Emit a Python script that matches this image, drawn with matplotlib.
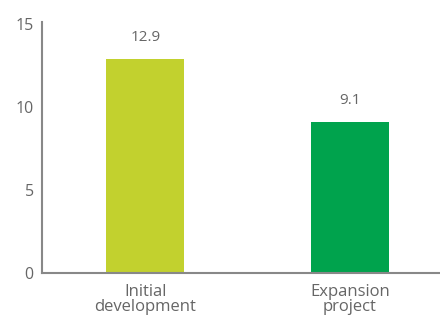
import matplotlib
matplotlib.use('Agg')
import matplotlib.pyplot as plt

categories = ['Initial\ndevelopment', 'Expansion\nproject']
values = [12.9, 9.1]
colors = ['#c2d12e', '#00a34d']
yticks = [0, 5, 10, 15]

plt.rcParams['font.family'] = ['Open Sans', 'DejaVu Sans']
text_color = '#666666'

fig = plt.figure(figsize=(4.4, 3.2), dpi=100)
ax = fig.add_axes([0.0955, 0.147, 0.9045, 0.784])

x = list(range(len(categories)))
ax.bar(x, values, width=0.38, color=colors)

for xi, v in zip(x, values):
    ax.annotate(f'{v}', (xi, v), xytext=(0, 10), textcoords='offset points',
                ha='center', va='bottom', fontsize=11, color=text_color)

ax.set_xlim(-0.505, 1.44)
ax.set_ylim(0, 15.1)
ax.set_yticks(yticks)
ax.set_xticks(x)
ax.set_xticklabels(categories, linespacing=0.95)
ax.tick_params(axis='both', length=0, labelcolor=text_color)
ax.tick_params(axis='y', pad=6, labelsize=11.5)
ax.tick_params(axis='x', pad=8, labelsize=12)

for s in ['top', 'right']:
    ax.spines[s].set_visible(False)
for s in ['left', 'bottom']:
    ax.spines[s].set_color('#888888')
    ax.spines[s].set_linewidth(1.5)

fig.savefig('out.png', dpi=100)
